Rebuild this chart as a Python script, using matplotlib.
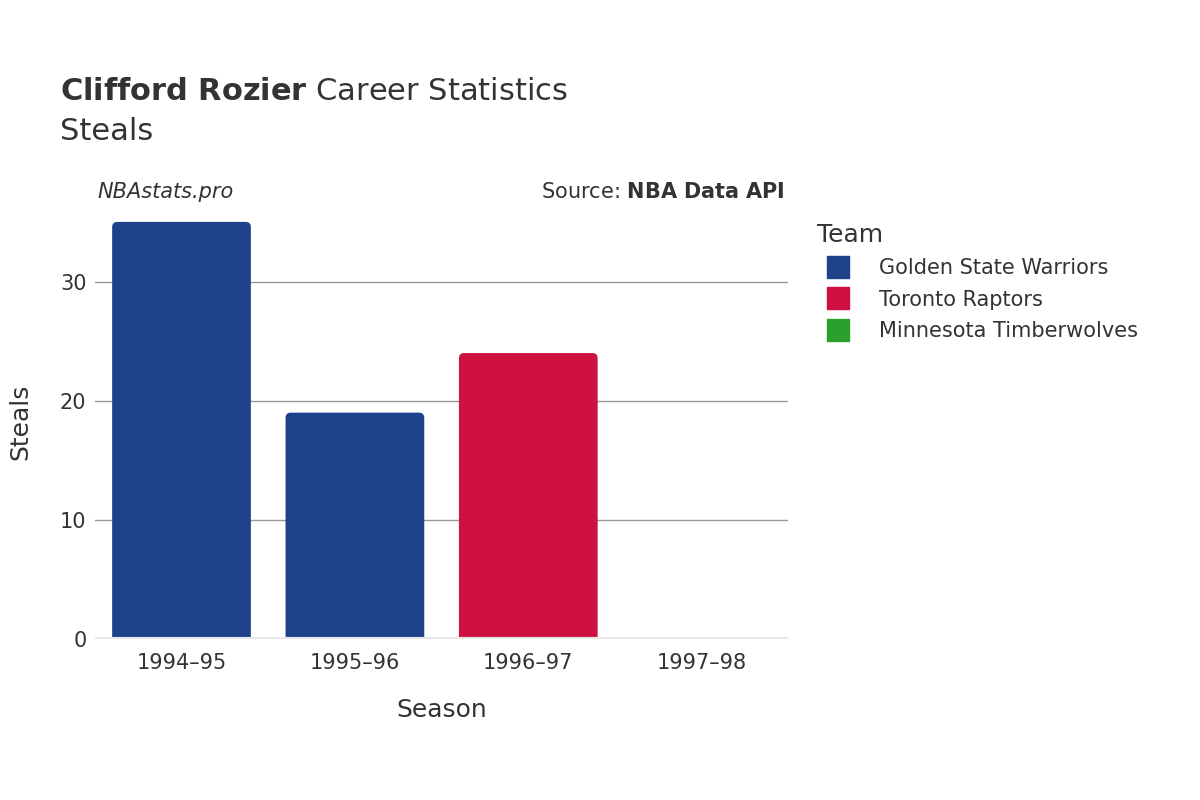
import matplotlib
matplotlib.use("Agg")
import matplotlib.pyplot as plt
from matplotlib.patches import FancyBboxPatch, Patch
from matplotlib.lines import Line2D

seasons = ["1994–95", "1995–96", "1996–97", "1997–98"]
steals = [35, 19, 24, 0]
teams = ["Golden State Warriors", "Golden State Warriors", "Toronto Raptors", "Minnesota Timberwolves"]
team_names = ["Golden State Warriors", "Toronto Raptors", "Minnesota Timberwolves"]
team_colors = {"Golden State Warriors": "#1d428a", "Toronto Raptors": "#ce1141", "Minnesota Timberwolves": "#2ca02c"}
yticks = [0, 10, 20, 30]

fig = plt.figure(figsize=(12, 8), dpi=100)
ax = fig.add_axes([0.079, 0.201, 0.578, 0.5425])
ax.set_xlim(-0.5, 3.5)
ax.set_ylim(0, 36.4)
w = 0.8
for i, (v, t) in enumerate(zip(steals, teams)):
    if v <= 0:
        continue
    p = FancyBboxPatch((i - w/2, -1), w, v + 1, boxstyle="round,pad=0,rounding_size=0.03",
                       mutation_aspect=14.5, facecolor=team_colors[t], edgecolor="none", zorder=3)
    p.set_clip_path(ax.patch)
    ax.add_patch(p)
ax.set_yticks(yticks)
ax.set_xticks(range(len(seasons)))
ax.set_xticklabels(seasons)
ax.grid(axis="y", color="#999999", linewidth=1, zorder=0)
for s in ax.spines.values():
    s.set_visible(False)
ax.axhline(0, color="#e8e8e8", linewidth=3, zorder=4)
ax.tick_params(axis="both", length=0, labelsize=15, labelcolor="#333333")
ax.tick_params(axis="x", pad=10)
ax.tick_params(axis="y", pad=6)
ax.set_xlabel("Season", fontsize=18, color="#333333", labelpad=18)
ax.set_ylabel("Steals", fontsize=18, color="#333333", labelpad=20)

fig.text(0.05, 0.875, r"$\bf{Clifford\ Rozier}$ Career Statistics", fontsize=22, color="#333333", va="baseline")
fig.text(0.05, 0.825, "Steals", fontsize=22, color="#333333", va="baseline")
fig.text(0.081, 0.752, "NBAstats.pro", fontsize=15, style="italic", color="#333333", va="baseline")
fig.text(0.654, 0.752, r"Source: $\bf{NBA\ Data\ API}$", fontsize=15, color="#333333", va="baseline", ha="right")

handles = [Line2D([0], [0], marker="s", linestyle="none", markersize=16, markerfacecolor=team_colors[t],
                  markeredgecolor=team_colors[t]) for t in team_names]
leg = fig.legend(handles, team_names, loc="upper left", bbox_to_anchor=(0.665, 0.745), frameon=False,
                 fontsize=15, title="Team", title_fontsize=18, labelspacing=0.55, handletextpad=1.0,
                 alignment="left")
for txt in leg.get_texts():
    txt.set_color("#333333")
leg.get_title().set_color("#333333")
fig.savefig("out.png", dpi=100, facecolor="white")
